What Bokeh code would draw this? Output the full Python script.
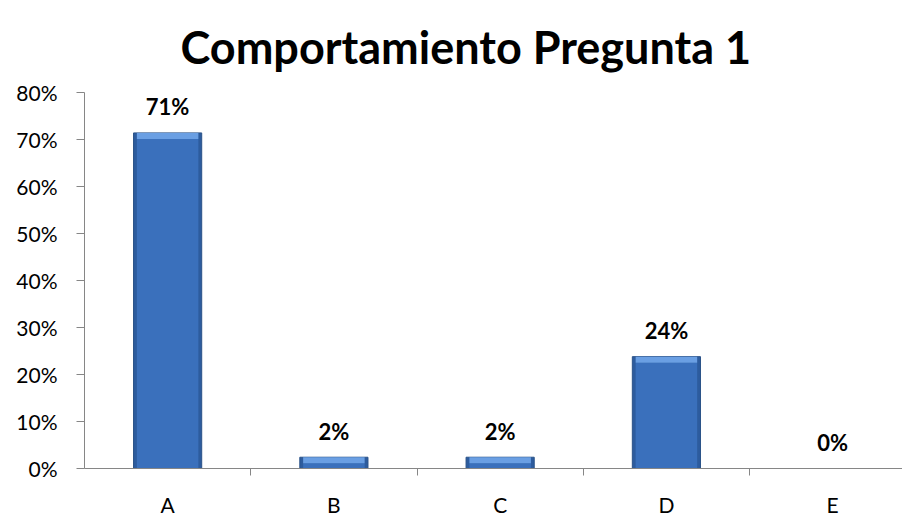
from bokeh.plotting import figure
from bokeh.models import (ColumnDataSource, Range1d, FixedTicker, NumeralTickFormatter,
                          LabelSet)
from bokeh.core.properties import value
from bokeh.embed import file_html
from bokeh.resources import INLINE

title_text = "Comportamiento Pregunta 1"
categories = ["A", "B", "C", "D", "E"]
values = [0.714, 0.024, 0.024, 0.238, 0.0]
value_labels = ["71%", "2%", "2%", "24%", "0%"]
y_ticks = [0.0, 0.1, 0.2, 0.3, 0.4, 0.5, 0.6, 0.7, 0.8]

FONT = "Lato"
xs = list(range(len(categories)))
bevel = 0.013
src = ColumnDataSource(dict(
    x=xs, cat=categories, v=values, lab=value_labels,
    vb=[max(v - bevel, 0) for v in values],
))

p = figure(width=902, height=519, output_backend="svg", toolbar_location=None,
           x_range=Range1d(-0.5, 4.42), y_range=Range1d(0, 0.8),
           min_border_left=84, min_border_right=0, min_border_bottom=51,
           min_border_top=92)
p.title.text = title_text
p.title.text_font = FONT
p.title.text_font_size = "45px"
p.title.text_font_style = "bold"
p.title.align = "left"
p.title.vertical_align = "top"
p.title.offset = 96
p.title.text_color = "black"
p.title.standoff = 34
p.outline_line_color = None
p.xgrid.visible = False
p.ygrid.visible = False

# bars (simple bevel look)
p.vbar(x="x", top="v", bottom=0, width=0.41, source=src,
       fill_color="#2D5C9E", line_color="#2A5288", line_width=1)
p.vbar(x="x", top="vb", bottom=0, width=0.37, source=src,
       fill_color="#3A70BC", line_color=None)
p.vbar(x="x", top="v", bottom="vb", width=0.37, source=src,
       fill_color="#6A9FE3", line_color=None)

# y axis
ya = p.yaxis[0]
ya.ticker = FixedTicker(ticks=y_ticks)
ya.formatter = NumeralTickFormatter(format="0%")
ya.axis_line_color = "#868686"
ya.major_tick_line_color = "#868686"
ya.major_tick_out = 8
ya.major_tick_in = 0
ya.minor_tick_line_color = None
ya.major_label_text_font = FONT
ya.major_label_text_font_size = "21px"
ya.major_label_text_color = "black"
ya.major_label_standoff = 19

# x axis: ticks between categories, labels at centres
xa = p.xaxis[0]
xa.ticker = FixedTicker(ticks=xs, minor_ticks=[x + 0.5 for x in xs[:-1]])
xa.major_label_overrides = {x: c for x, c in zip(xs, categories)}
xa.axis_line_color = "#868686"
xa.major_tick_line_color = None
xa.major_tick_out = 0
xa.major_tick_in = 0
xa.minor_tick_line_color = "#868686"
xa.minor_tick_out = 7
xa.minor_tick_in = 0
xa.major_label_text_font = FONT
xa.major_label_text_font_size = "21px"
xa.major_label_text_color = "black"
xa.major_label_standoff = 16

val_labels = LabelSet(x="x", y="v", text="lab", source=src, y_offset=26,
                      text_align="center", text_baseline="middle",
                      text_font=value(FONT), text_font_size=value("22px"),
                      text_font_style=value("bold"), text_color="black")
p.add_layout(val_labels)

open("out.html", "w").write(file_html(p, INLINE))
